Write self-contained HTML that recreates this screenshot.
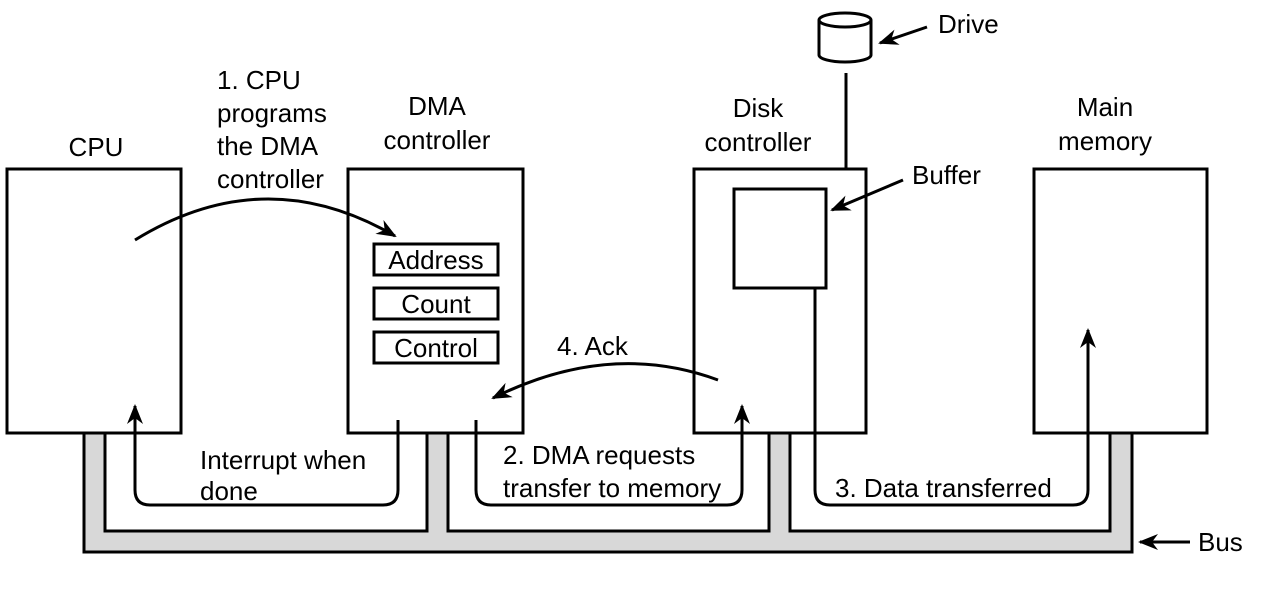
<!DOCTYPE html>
<html><head><meta charset="utf-8"><style>
html,body{margin:0;padding:0;background:#fff;}
svg text{font-family:"Liberation Sans",sans-serif;font-size:26px;fill:#000;}
</style></head><body>
<svg width="1268" height="585" viewBox="0 0 1268 585" xmlns="http://www.w3.org/2000/svg">
<defs>
<marker id="ah2" viewBox="0 0 10 10" refX="9" refY="5" markerWidth="20" markerHeight="20" orient="auto" markerUnits="userSpaceOnUse">
<path d="M0,1 L10,5 L0,9 L3,5 z" fill="#000"/>
</marker>
</defs>
<!-- Bus -->
<path d="M84,433 L84,552 L1132,552 L1132,433 L1110,433 L1110,531 L790,531 L790,433 L769,433 L769,531 L448,531 L448,433 L427,433 L427,531 L105,531 L105,433 Z" fill="#d8d8d8" stroke="#000" stroke-width="3"/>
<!-- boxes -->
<g fill="#fff" stroke="#000" stroke-width="3">
<rect x="7" y="169" width="174" height="264"/>
<rect x="348" y="169" width="175" height="264"/>
<rect x="694" y="169" width="172" height="264"/>
<rect x="1034" y="169" width="173" height="264"/>
<rect x="374" y="244" width="124" height="31"/>
<rect x="374" y="288" width="124" height="31"/>
<rect x="374" y="332" width="124" height="31"/>
<rect x="734" y="189" width="92" height="99"/>
</g>
<!-- drive -->
<g fill="#fff" stroke="#000" stroke-width="3">
<path d="M819,20 L819,55 A26,7 0 0 0 871,55 L871,20"/>
<ellipse cx="845" cy="20" rx="26" ry="7"/>
</g>
<line x1="846" y1="73" x2="846" y2="169" stroke="#000" stroke-width="3"/>
<!-- connectors -->
<g fill="none" stroke="#000" stroke-width="3">
<path d="M135,240 Q265,160 395,236" marker-end="url(#ah2)"/>
<path d="M718,380 Q610,340 493,398" marker-end="url(#ah2)"/>
<path d="M398,420 L398,490 Q398,505 383,505 L150,505 Q135,505 135,490 L135,406" marker-end="url(#ah2)"/>
<path d="M476,420 L476,490 Q476,505 491,505 L727,505 Q742,505 742,490 L742,406" marker-end="url(#ah2)"/>
<path d="M815,288 L815,490 Q815,505 830,505 L1073,505 Q1088,505 1088,490 L1088,330" marker-end="url(#ah2)"/>
<path d="M927,27 L880,43" marker-end="url(#ah2)"/>
<path d="M903,180 L832,210" marker-end="url(#ah2)"/>
<path d="M1190,542 L1140,542" marker-end="url(#ah2)"/>
</g>
<!-- labels -->
<text x="96" y="156" text-anchor="middle">CPU</text>
<text x="217" y="89">1. CPU</text>
<text x="217" y="122">programs</text>
<text x="217" y="155">the DMA</text>
<text x="217" y="188">controller</text>
<text x="437" y="115" text-anchor="middle">DMA</text>
<text x="437" y="149" text-anchor="middle">controller</text>
<text x="758" y="117" text-anchor="middle">Disk</text>
<text x="758" y="151" text-anchor="middle">controller</text>
<text x="1105" y="116" text-anchor="middle">Main</text>
<text x="1105" y="150" text-anchor="middle">memory</text>
<text x="938" y="33">Drive</text>
<text x="912" y="184">Buffer</text>
<text x="436" y="269" text-anchor="middle">Address</text>
<text x="436" y="313" text-anchor="middle">Count</text>
<text x="436" y="357" text-anchor="middle">Control</text>
<text x="557" y="355">4. Ack</text>
<text x="200" y="469">Interrupt when</text>
<text x="200" y="500">done</text>
<text x="503" y="464">2. DMA requests</text>
<text x="503" y="497">transfer to memory</text>
<text x="835" y="497">3. Data transferred</text>
<text x="1198" y="551">Bus</text>
</svg>
</body></html>
